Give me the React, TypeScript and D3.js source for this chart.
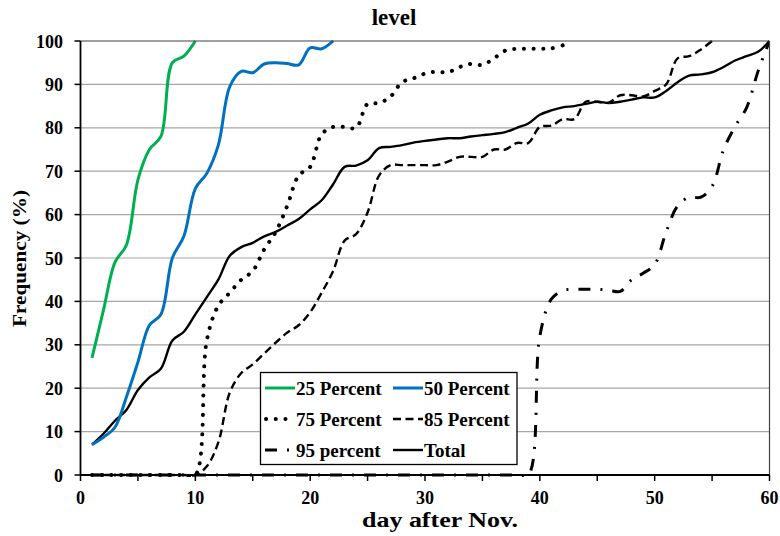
import React from "react";
import * as d3 from "d3";

const days: number[] = [
  1, 2, 3, 4, 5, 6, 7, 8, 9, 10, 11, 12, 13, 14, 15, 16, 17, 18, 19, 20,
  21, 22, 23, 24, 25, 26, 27, 28, 29, 30, 31, 32, 33, 34, 35, 36, 37, 38, 39, 40,
  41, 42, 43, 44, 45, 46, 47, 48, 49, 50, 51, 52, 53, 54, 55, 56, 57, 58, 59, 60,
];

const p25: number[] = [27, 38, 49, 53, 68, 75, 78, 95, 96.5, 100];
const p50: number[] = [
  7, 8.7, 11, 18, 26, 34.5, 37, 50, 55, 66, 69.5, 76, 89.5, 93, 92.7, 94.7, 95, 94.8, 94.5, 98.4,
  98.2, 100,
];
const p75: number[] = [
  0, 0, 0, 0, 0, 0, 0, 0, 0, 0, 31, 39, 42, 45, 47, 52, 56, 62, 69, 71,
  78.5, 80.2, 80.2, 80, 85.5, 85.7, 87.2, 90.5, 91.4, 92.5, 92.9, 92.8, 94, 94.7, 94.5, 96, 97.8, 98.2, 98.2, 98.2,
  98.3, 99,
];
const p85: number[] = [
  0, 0, 0, 0, 0, 0, 0, 0, 0, 0, 2, 7.5, 19, 23.5, 25.5, 28, 30.5, 32.8, 34.5, 37.5,
  42, 47, 54, 55.5, 60.5, 69, 71.4, 71.4, 71.4, 71.4, 71.4, 72.2, 73.3, 73.3, 73.3, 75, 75, 76.5, 76.5, 80.2,
  80.5, 82, 82, 86, 86, 85.8, 87.5, 87.5, 87.2, 88.5, 90, 96, 96.5, 98, 100,
];
const p95: number[] = [
  0, 0, 0, 0, 0, 0, 0, 0, 0, 0, 0, 0, 0, 0, 0, 0, 0, 0, 0, 0,
  0, 0, 0, 0, 0, 0, 0, 0, 0, 0, 0, 0, 0, 0, 0, 0, 0, 0, 0, 32,
  40.5, 42.5, 42.8, 42.8, 42.8, 42.6, 42.3, 45, 46.5, 48.5, 56, 62, 64, 64, 66.5, 75, 80.3, 84.6, 93, 100,
];
const total: number[] = [
  7, 9.5, 12.5, 15, 19.6, 22.5, 24.5, 31, 33, 37, 41, 45, 50.5, 52.5, 53.5, 55, 56, 57.5, 59, 61.2,
  63.3, 67, 71, 71.3, 72.5, 75.3, 75.6, 76, 76.6, 77, 77.3, 77.6, 77.6, 78, 78.3, 78.6, 79, 80, 81, 83,
  84, 84.7, 85, 85.5, 86, 85.7, 86, 86.5, 87, 87, 88.5, 90.5, 92, 92.3, 92.8, 94, 95.5, 96.5, 97.5, 100,
];

const xTicks: number[] = [0, 5, 10, 15, 20, 25, 30, 35, 40, 45, 50, 55, 60];
const xLabels: number[] = [0, 10, 20, 30, 40, 50, 60];
const yTicks: number[] = [0, 10, 20, 30, 40, 50, 60, 70, 80, 90, 100];

const titleText = "level";
const xTitle = "day after Nov.";
const yTitle = "Frequency (%)";

type Series = {
  name: string;
  values: number[];
  color: string;
  width: number;
  dash: string;
  cap: "round" | "butt";
};

const series: Series[] = [
  { name: "95 percent", values: p95, color: "#000", width: 3, dash: "12 10 2 10", cap: "butt" },
  { name: "85 Percent", values: p85, color: "#000", width: 2.4, dash: "8 4.5", cap: "butt" },
  { name: "75 Percent", values: p75, color: "#000", width: 4, dash: "0.1 9.6", cap: "round" },
  { name: "Total", values: total, color: "#000", width: 2.4, dash: "", cap: "butt" },
  { name: "50 Percent", values: p50, color: "#0070C0", width: 3, dash: "", cap: "butt" },
  { name: "25 Percent", values: p25, color: "#00B050", width: 3, dash: "", cap: "butt" },
];

const legendOrder: string[] = ["25 Percent", "50 Percent", "75 Percent", "85 Percent", "95 percent", "Total"];

const W = 780;
const H = 536;
const x = d3.scaleLinear().domain([0, 60]).range([80.5, 769.5]);
const y = d3.scaleLinear().domain([0, 100]).range([475, 41]);

const FONT = "'Liberation Serif', 'Times New Roman', serif";

export default function App() {
  const line = d3
    .line<[number, number]>()
    .x((d) => x(d[0]))
    .y((d) => y(d[1]))
    .curve(d3.curveCatmullRom.alpha(0.5));

  const [x0, x1] = x.range();
  const [y0, y1] = y.range();

  const legendCols = [265, 393];
  const legendRows = [388, 419, 450];
  const sampleLen = 30;

  return (
    <svg
      width={W}
      height={H}
      style={{ position: "absolute", left: 0, top: 0, background: "#fff" }}
      fontFamily={FONT}
    >
      <defs>
        <clipPath id="plotClip">
          <rect x={x0} y={y1 - 1} width={x1 - x0} height={y0 - y1 + 3} />
        </clipPath>
      </defs>
      <rect x={0} y={0} width={W} height={H} fill="#fff" />

      {/* gridlines */}
      {yTicks
        .filter((t) => t > 0 && t < 100)
        .map((t) => (
          <line key={"g" + t} x1={x0} x2={x1} y1={y(t)} y2={y(t)} stroke="#a6a6a6" strokeWidth={1.2} />
        ))}

      {/* series */}
      <g clipPath="url(#plotClip)">
        {series.map((s) => (
          <path
            key={s.name}
            d={line(s.values.map((v, i) => [days[i], v] as [number, number])) || ""}
            fill="none"
            stroke={s.color}
            strokeWidth={s.width}
            strokeDasharray={s.dash || undefined}
            strokeLinecap={s.cap}
            strokeLinejoin="round"
          />
        ))}
      </g>

      {/* plot border */}
      <line x1={x0} x2={x1} y1={y1} y2={y1} stroke="#404040" strokeWidth={1.2} />
      <line x1={x1} x2={x1} y1={y1} y2={y0} stroke="#404040" strokeWidth={1.2} />
      {/* axes */}
      <line x1={x0} x2={x0} y1={y1} y2={y0} stroke="#000" strokeWidth={1.8} />
      <line x1={x0} x2={x1} y1={y0} y2={y0} stroke="#000" strokeWidth={1.8} />

      {yTicks.map((t) => (
        <g key={"yt" + t}>
          <line x1={x0 - 6} x2={x0} y1={y(t)} y2={y(t)} stroke="#000" strokeWidth={1.5} />
          <text x={63} y={y(t) + 6.5} textAnchor="end" fontSize={18} fontWeight="bold">
            {t}
          </text>
        </g>
      ))}
      {xTicks.map((t) => (
        <line key={"xt" + t} x1={x(t)} x2={x(t)} y1={y0} y2={y0 + 6} stroke="#000" strokeWidth={1.5} />
      ))}
      {xLabels.map((t) => (
        <text key={"xl" + t} x={x(t)} y={504} textAnchor="middle" fontSize={18} fontWeight="bold">
          {t}
        </text>
      ))}

      {/* titles */}
      <text x={394} y={25} textAnchor="middle" fontSize={23} fontWeight="bold">
        {titleText}
      </text>
      <text
        x={440}
        y={527}
        textAnchor="middle"
        fontSize={21}
        fontWeight="bold"
        textLength={156}
        lengthAdjust="spacingAndGlyphs"
      >
        {xTitle}
      </text>
      <text
        transform="translate(26,258.5) rotate(-90)"
        textAnchor="middle"
        fontSize={19}
        fontWeight="bold"
        textLength={137}
        lengthAdjust="spacingAndGlyphs"
      >
        {yTitle}
      </text>

      {/* legend */}
      <rect x={260.5} y={372.5} width={256.5} height={92} fill="#fff" stroke="#000" strokeWidth={1.3} />
      {legendOrder.map((name, i) => {
        const s = series.find((q) => q.name === name)!;
        const cx = legendCols[i % 2];
        const cy = legendRows[Math.floor(i / 2)];
        return (
          <g key={"lg" + name}>
            <line
              x1={cx}
              x2={cx + sampleLen}
              y1={cy}
              y2={cy}
              stroke={s.color}
              strokeWidth={s.width}
              strokeDasharray={s.dash || undefined}
              strokeLinecap={s.cap}
              strokeDashoffset={s.cap === "round" ? -1 : 0}
            />
            <text x={cx + sampleLen + 1} y={cy + 6.5} fontSize={19} fontWeight="bold">
              {name}
            </text>
          </g>
        );
      })}
    </svg>
  );
}
